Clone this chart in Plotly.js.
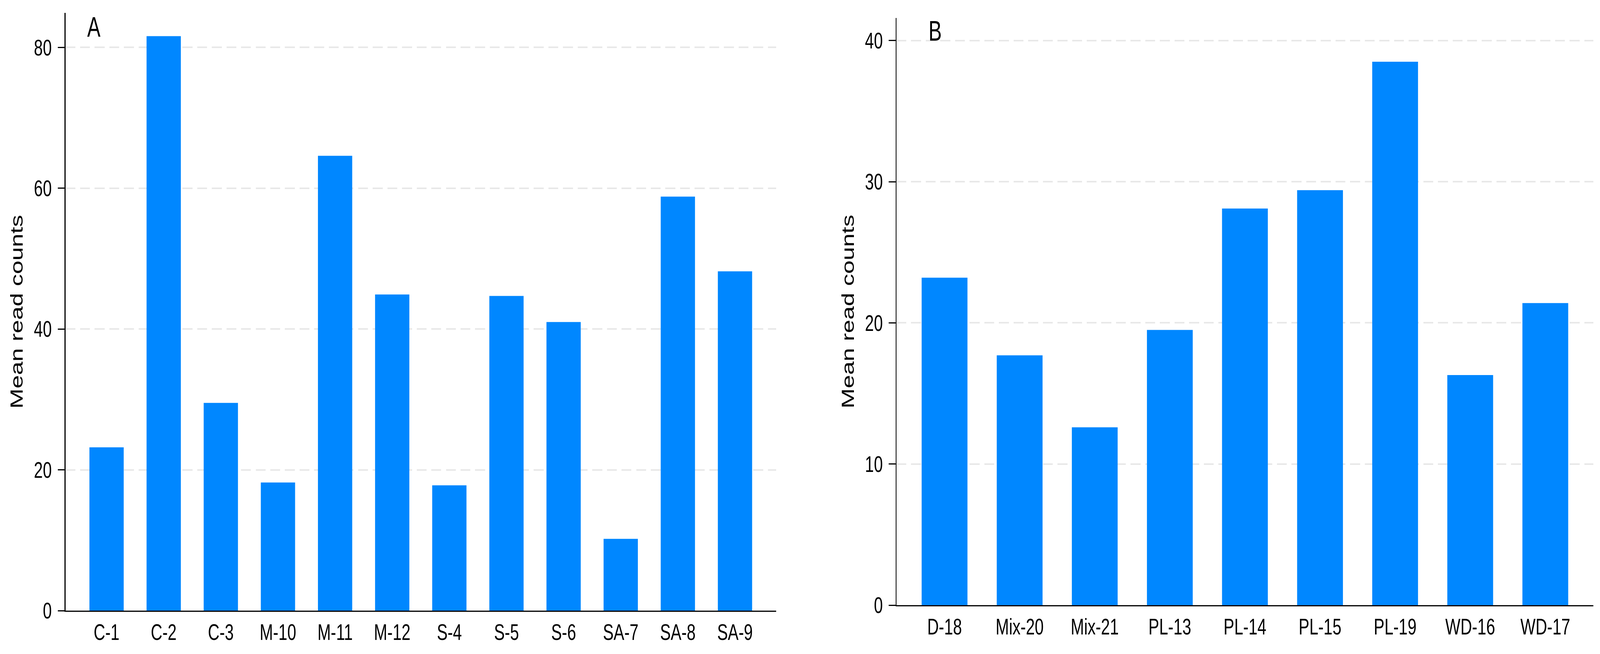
<!DOCTYPE html>
<html>
<head>
<meta charset="utf-8">
<script src="https://cdn.plot.ly/plotly-3.0.1.min.js"></script>
<style>
html,body{margin:0;padding:0;background:#fff;overflow:hidden;}
#chart{width:5795px;height:1674px;transform-origin:0 0;}
</style>
</head>
<body>
<div id="chart"></div>
<script>
// Panel A data
const catsA = ["C-1","C-2","C-3","M-10","M-11","M-12","S-4","S-5","S-6","SA-7","SA-8","SA-9"];
const valsA = [23.2, 81.6, 29.5, 18.2, 64.6, 44.9, 17.8, 44.7, 41.0, 10.2, 58.8, 48.2];
const ticksA = [0, 20, 40, 60, 80];

// Panel B data
const catsB = ["D-18","Mix-20","Mix-21","PL-13","PL-14","PL-15","PL-19","WD-16","WD-17"];
const valsB = [23.2, 17.7, 12.6, 19.5, 28.1, 29.4, 38.5, 16.3, 21.4];
const ticksB = [0, 10, 20, 30, 40];

const yTitle = "Mean read counts";
const panelLabels = ["A", "B"];

const W = 5795, H = 1674;
const barColor = "#0087ff";
const FONT = "Liberation Sans, Arial, sans-serif";

// fit the full-size chart into the actual viewport
(function(){
  const vw = window.innerWidth || W, vh = window.innerHeight || H;
  const sx = Math.min(1, vw / W), sy = Math.min(1, vh / H);
  if (sx < 1 || sy < 1) {
    document.getElementById("chart").style.transform = "scale(" + sx + "," + sy + ")";
  }
})();

const traces = [
  {type:"bar", x:catsA, y:valsA, xaxis:"x", yaxis:"y", width:0.6,
   marker:{color:barColor, line:{width:0}}, showlegend:false, hoverinfo:"x+y"},
  {type:"bar", x:catsB, y:valsB, xaxis:"x2", yaxis:"y2", width:0.61,
   marker:{color:barColor, line:{width:0}}, showlegend:false, hoverinfo:"x+y"}
];

function xAx(domain, n, pad, anchor){
  return {
    domain: domain, anchor: anchor, type:"category",
    range: [-pad, n - 1 + pad],
    showline:true, linecolor:"#000", linewidth:3,
    ticks:"", showgrid:false, zeroline:false,
    tickfont:{family:FONT, size:58, color:"#000"},
    ticklabelstandoff: 2,
    automargin:false, fixedrange:true
  };
}
function yAx(domain, range, ticks, anchor){
  return {
    domain: domain, anchor: anchor, range: range,
    tickmode:"array", tickvals: ticks, ticktext: ticks.map(String),
    ticks:"outside", ticklen:25, tickwidth:3, tickcolor:"#000",
    showline:true, linecolor:"#000", linewidth:3,
    showgrid:true, gridcolor:"#e8e8e8", gridwidth:4, griddash:"36px,17px",
    zeroline:false,
    tickfont:{family:FONT, size:58, color:"#000"},
    ticklabelstandoff: 10,
    title:{text:yTitle, font:{family:FONT, size:62, color:"#000"}, standoff:20},
    automargin:false, fixedrange:true
  };
}

const layout = {
  width: W, height: H,
  margin:{l:0, r:0, t:0, b:0, pad:0},
  paper_bgcolor:"#fff", plot_bgcolor:"#fff",
  bargap:0.4,
  xaxis: xAx([237/W, 2811/W], catsA.length, 0.72, "y"),
  yaxis: yAx([1 - 1563/H, 1 - 33/H], [0, 84.9], ticksA, "x"),
  xaxis2: xAx([3247/W, 5771/W], catsB.length, 0.64, "y2"),
  yaxis2: yAx([1 - 1549/H, 1 - 46/H], [0, 41.6], ticksB, "x2"),
  annotations: [
    {text: panelLabels[0], xref:"paper", yref:"paper", x:340/W, y:1 - 69/H,
     xanchor:"center", yanchor:"middle", showarrow:false,
     font:{family:FONT, size:72, color:"#000"}},
    {text: panelLabels[1], xref:"paper", yref:"paper", x:3387/W, y:1 - 79/H,
     xanchor:"center", yanchor:"middle", showarrow:false,
     font:{family:FONT, size:72, color:"#000"}}
  ]
};

Plotly.newPlot("chart", traces, layout, {staticPlot:true, displayModeBar:false});
</script>
</body>
</html>
